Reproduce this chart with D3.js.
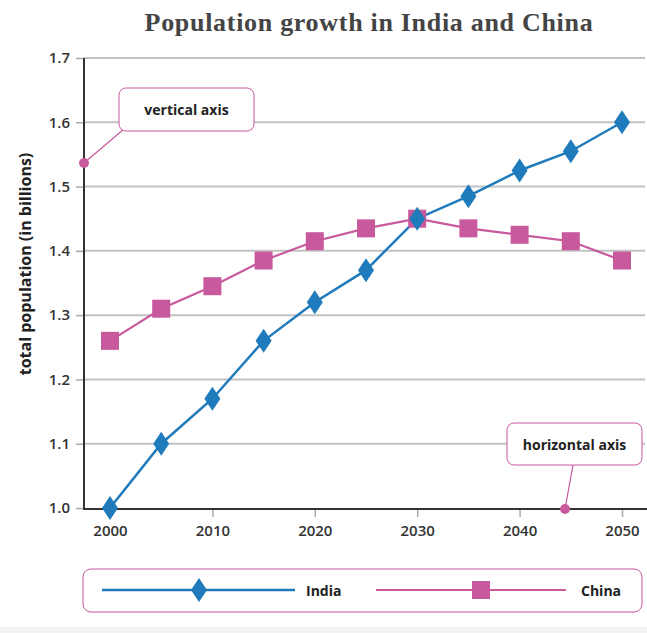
<!DOCTYPE html>
<html>
<head>
<meta charset="utf-8">
<script src="https://cdn.jsdelivr.net/npm/d3@7"></script>
<style>
  html, body { margin: 0; padding: 0; background: #fff; }
  svg { display: block; }
</style>
</head>
<body>
<script>
const years = [2000, 2005, 2010, 2015, 2020, 2025, 2030, 2035, 2040, 2045, 2050];
const india = [1.0, 1.1, 1.17, 1.26, 1.32, 1.37, 1.45, 1.485, 1.525, 1.555, 1.6];
const china = [1.26, 1.31, 1.345, 1.385, 1.415, 1.435, 1.45, 1.435, 1.425, 1.415, 1.385];
const yTicks = [1.0, 1.1, 1.2, 1.3, 1.4, 1.5, 1.6, 1.7];
const xTicks = [2000, 2010, 2020, 2030, 2040, 2050];
const title = "Population growth in India and China";
const yTitle = "total population (in billions)";
const seriesNames = ["India", "China"];
const calloutLabels = ["vertical axis", "horizontal axis"];

const W = 647, H = 633;
const blue = "#1f7bbb", pink = "#c8599d";
const svg = d3.select("body").append("svg").attr("width", W).attr("height", H);

const x = d3.scaleLinear().domain([2000, 2050]).range([110, 622]);
const y = d3.scaleLinear().domain([1.0, 1.7]).range([508, 58]);
const axisX = 84, rightEdge = 645;

// faint strip at bottom
svg.append("rect").attr("x", 0).attr("y", 627).attr("width", W).attr("height", 6).attr("fill", "#f3f3f3");

// title
svg.append("text").attr("x", 369).attr("y", 31).attr("text-anchor", "middle")
  .attr("font-family", "'Liberation Serif', 'DejaVu Serif', serif").attr("font-size", 26)
  .attr("font-weight", 700).attr("letter-spacing", 0.7).attr("fill", "#444").text(title);

// gridlines
svg.append("g").selectAll("line").data(yTicks.filter(d => d > 1.0)).join("line")
  .attr("x1", axisX).attr("x2", rightEdge)
  .attr("y1", d => y(d)).attr("y2", d => y(d))
  .attr("stroke", "#c3c3c3").attr("stroke-width", 2);

// y axis ticks + labels
const gy = svg.append("g").attr("transform", `translate(${axisX},0)`)
  .call(d3.axisLeft(y).tickValues(yTicks).tickSize(8).tickPadding(6).tickFormat(d3.format(".1f")));
gy.select(".domain").remove();
gy.selectAll(".tick line").attr("stroke", "#aaa").attr("stroke-width", 1.5);
gy.selectAll(".tick text").attr("font-family", "'Open Sans', sans-serif").attr("font-weight", 600)
  .attr("font-size", 15).attr("fill", "#333");

// x axis ticks + labels
const gx = svg.append("g").attr("transform", `translate(0,509)`)
  .call(d3.axisBottom(x).tickValues(xTicks).tickSize(8).tickPadding(8).tickFormat(d3.format("d")));
gx.select(".domain").remove();
gx.selectAll(".tick line").attr("stroke", "#aaa").attr("stroke-width", 1.5);
gx.selectAll(".tick text").attr("font-family", "'Open Sans', sans-serif").attr("font-weight", 600)
  .attr("font-size", 15).attr("fill", "#333");

// axis lines
svg.append("path").attr("d", `M${axisX},58 L${axisX},509 L${W},509`)
  .attr("fill", "none").attr("stroke", "#333").attr("stroke-width", 2);

// y axis title
svg.append("text").attr("transform", "translate(25,264) rotate(-90)").attr("text-anchor", "middle")
  .attr("dominant-baseline", "central")
  .attr("font-family", "'Open Sans', sans-serif").attr("font-weight", 700).attr("font-size", 16)
  .attr("fill", "#222").text(yTitle);

// callouts
function callout(bx, by, bw, bh, label, lx1, ly1, lx2, ly2) {
  const g = svg.append("g");
  g.append("line").attr("x1", lx1).attr("y1", ly1).attr("x2", lx2).attr("y2", ly2)
    .attr("stroke", pink).attr("stroke-width", 1.2);
  g.append("rect").attr("x", bx).attr("y", by).attr("width", bw).attr("height", bh).attr("rx", 7)
    .attr("fill", "#fff").attr("stroke", pink).attr("stroke-width", 1);
  g.append("text").attr("x", bx + bw / 2).attr("y", by + bh / 2).attr("text-anchor", "middle")
    .attr("dominant-baseline", "central")
    .attr("font-family", "'Open Sans', sans-serif").attr("font-weight", 700).attr("font-size", 14)
    .attr("fill", "#222").text(label);
  g.append("circle").attr("cx", lx1).attr("cy", ly1).attr("r", 5).attr("fill", pink);
}
callout(119, 88, 135, 43, calloutLabels[0], axisX, 163, 124, 129);
callout(507, 423, 135, 42, calloutLabels[1], 565, 509, 573, 465);

// lines
const line = d3.line().x((d, i) => x(years[i])).y(d => y(d));
svg.append("path").datum(china).attr("d", line).attr("fill", "none").attr("stroke", pink).attr("stroke-width", 2.2);
svg.append("path").datum(india).attr("d", line).attr("fill", "none").attr("stroke", blue).attr("stroke-width", 2.5);

const sq = 18, dw = 8, dh = 12;
svg.append("g").selectAll("rect").data(china).join("rect")
  .attr("x", (d, i) => x(years[i]) - sq / 2).attr("y", d => y(d) - sq / 2)
  .attr("width", sq).attr("height", sq).attr("fill", pink);
const diamond = (cx, cy) => `M${cx},${cy - dh} L${cx + dw},${cy} L${cx},${cy + dh} L${cx - dw},${cy} Z`;
svg.append("g").selectAll("path").data(india).join("path")
  .attr("d", (d, i) => diamond(x(years[i]), y(d))).attr("fill", blue);

// legend
const lg = svg.append("g");
lg.append("rect").attr("x", 83).attr("y", 569).attr("width", 559).attr("height", 43).attr("rx", 8)
  .attr("fill", "#fff").attr("stroke", pink).attr("stroke-width", 1);
const ly = 590;
lg.append("line").attr("x1", 102).attr("x2", 295).attr("y1", ly).attr("y2", ly).attr("stroke", blue).attr("stroke-width", 2.5);
lg.append("path").attr("d", diamond(199, ly)).attr("fill", blue);
lg.append("text").attr("x", 306).attr("y", ly).attr("dominant-baseline", "central")
  .attr("font-family", "'Open Sans', sans-serif").attr("font-weight", 700).attr("font-size", 14).attr("fill", "#222").text(seriesNames[0]);
lg.append("line").attr("x1", 376).attr("x2", 566).attr("y1", ly).attr("y2", ly).attr("stroke", pink).attr("stroke-width", 2.2);
lg.append("rect").attr("x", 481 - sq / 2).attr("y", ly - sq / 2).attr("width", sq).attr("height", sq).attr("fill", pink);
lg.append("text").attr("x", 581).attr("y", ly).attr("dominant-baseline", "central")
  .attr("font-family", "'Open Sans', sans-serif").attr("font-weight", 700).attr("font-size", 14).attr("fill", "#222").text(seriesNames[1]);
</script>
</body>
</html>
